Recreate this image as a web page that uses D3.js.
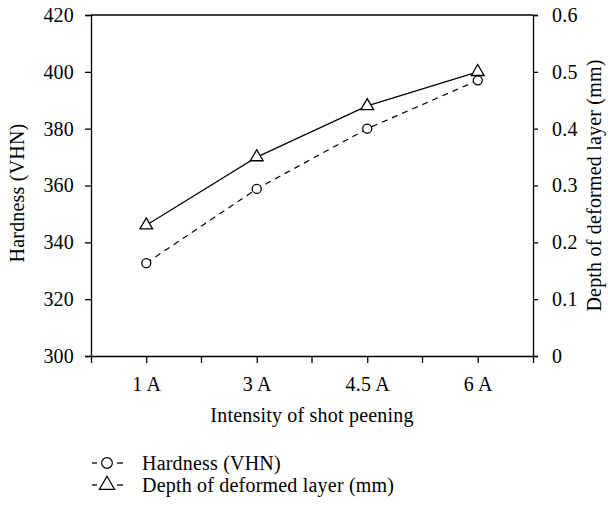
<!DOCTYPE html>
<html>
<head>
<meta charset="utf-8">
<script src="https://cdn.jsdelivr.net/npm/d3@7"></script>
<style>
  body { margin: 0; background: #fff; }
  svg text { font-family: "Liberation Serif", "Times New Roman", Times, serif !important; fill: #000; }
</style>
</head>
<body>
<svg id="chart" width="608" height="508"></svg>
<script>
const categories = ["1 A", "3 A", "4.5 A", "6 A"];
const hardness = [332.7, 358.8, 380, 397];
const depth = [0.23, 0.35, 0.44, 0.5];
const hardnessTicks = [300, 320, 340, 360, 380, 400, 420];
const depthTicks = [0, 0.1, 0.2, 0.3, 0.4, 0.5, 0.6];

const svg = d3.select("#chart");
const margin = {top: 15, right: 75, bottom: 152, left: 91};
const width = +svg.attr("width") - margin.left - margin.right;
const height = +svg.attr("height") - margin.top - margin.bottom;
const g = svg.append("g").attr("transform", `translate(${margin.left},${margin.top})`);

const fs = "20px";
const ls = "0.2px";

const x = d3.scalePoint().domain(categories).range([0, width]).padding(0.5);
const yL = d3.scaleLinear().domain([300, 420]).range([height, 0]);
const yR = d3.scaleLinear().domain([0, 0.6]).range([height, 0]);

// frame top
g.append("line").attr("x1", 0).attr("x2", width).attr("y1", 0).attr("y2", 0)
    .attr("stroke", "#000").attr("stroke-width", 1.3);

const leftAxis = g.append("g")
    .call(d3.axisLeft(yL).tickValues(hardnessTicks).tickSize(6).tickPadding(11));
const rightAxis = g.append("g").attr("transform", `translate(${width},0)`)
    .call(d3.axisRight(yR).tickValues(depthTicks).tickSize(5).tickPadding(14)
        .tickFormat(d => d === 0 ? "0" : d3.format(".1f")(d)));
const bottomAxis = g.append("g").attr("transform", `translate(0,${height})`)
    .call(d3.axisBottom(x).tickSize(7).tickPadding(14));

// minor ticks between categories
const mids = categories.slice(1).map((c, i) => (x(c) + x(categories[i])) / 2);
bottomAxis.selectAll(".minor").data(mids).enter().append("line")
    .attr("class", "minor")
    .attr("x1", d => d).attr("x2", d => d)
    .attr("y1", 0).attr("y2", 7)
    .attr("stroke", "#000").attr("stroke-width", 1.3);

[leftAxis, rightAxis, bottomAxis].forEach(a => {
    a.attr("font-family", null).attr("font-size", null);
    a.selectAll(".domain").attr("stroke-width", 1.3);
    a.selectAll(".tick line").attr("stroke-width", 1.3);
    a.selectAll("text").style("font-size", fs).style("letter-spacing", ls);
});

// axis titles
svg.append("text")
    .attr("transform", `translate(24,193) rotate(-90)`)
    .attr("text-anchor", "middle").style("font-size", fs).style("letter-spacing", ls)
    .text("Hardness (VHN)");
svg.append("text")
    .attr("transform", `translate(601,${margin.top + height / 2}) rotate(-90)`)
    .attr("text-anchor", "middle").style("font-size", fs).style("letter-spacing", ls)
    .text("Depth of deformed layer (mm)");
svg.append("text")
    .attr("x", margin.left + width / 2).attr("y", 422)
    .attr("text-anchor", "middle").style("font-size", fs).style("letter-spacing", ls)
    .text("Intensity of shot peening");

// lines
const hardLine = d3.line().x((d, i) => x(categories[i])).y(d => yL(d));
const depthLine = d3.line().x((d, i) => x(categories[i])).y(d => yR(d));

g.append("path").datum(hardness).attr("d", hardLine)
    .attr("fill", "none").attr("stroke", "#000").attr("stroke-width", 1.2)
    .attr("stroke-dasharray", "6,5");
g.append("path").datum(depth).attr("d", depthLine)
    .attr("fill", "none").attr("stroke", "#000").attr("stroke-width", 1.2);

const circleSym = d3.symbol().type(d3.symbolCircle).size(64);
const triSym = d3.symbol().type(d3.symbolTriangle).size(70);

g.selectAll(".hpt").data(hardness).enter().append("path")
    .attr("class", "hpt")
    .attr("d", circleSym)
    .attr("transform", (d, i) => `translate(${x(categories[i])},${yL(d)})`)
    .attr("fill", "#fff").attr("stroke", "#000").attr("stroke-width", 1.3);
g.selectAll(".dpt").data(depth).enter().append("path")
    .attr("class", "dpt")
    .attr("d", triSym)
    .attr("transform", (d, i) => `translate(${x(categories[i])},${yR(d)})`)
    .attr("fill", "#fff").attr("stroke", "#000").attr("stroke-width", 1.3);

// legend
const legendItems = [
    {label: "Hardness (VHN)", sym: d3.symbol().type(d3.symbolCircle).size(90)},
    {label: "Depth of deformed layer (mm)", sym: d3.symbol().type(d3.symbolTriangle).size(100)}
];
const lg = svg.append("g").attr("transform", "translate(92,463)");
legendItems.forEach((it, i) => {
    const row = lg.append("g").attr("transform", `translate(0,${i * 22})`);
    row.append("line").attr("x1", 0).attr("x2", 5).attr("y1", 0).attr("y2", 0)
        .attr("stroke", "#000").attr("stroke-width", 1.3);
    row.append("line").attr("x1", 25).attr("x2", 31).attr("y1", 0).attr("y2", 0)
        .attr("stroke", "#000").attr("stroke-width", 1.3);
    row.append("path").attr("d", it.sym).attr("transform", "translate(15,0)")
        .attr("fill", "#fff").attr("stroke", "#000").attr("stroke-width", 1.2);
    row.append("text").attr("x", 50).attr("y", 0).attr("dy", "0.35em")
        .style("font-size", fs).style("letter-spacing", ls).text(it.label);
});
</script>
</body>
</html>
